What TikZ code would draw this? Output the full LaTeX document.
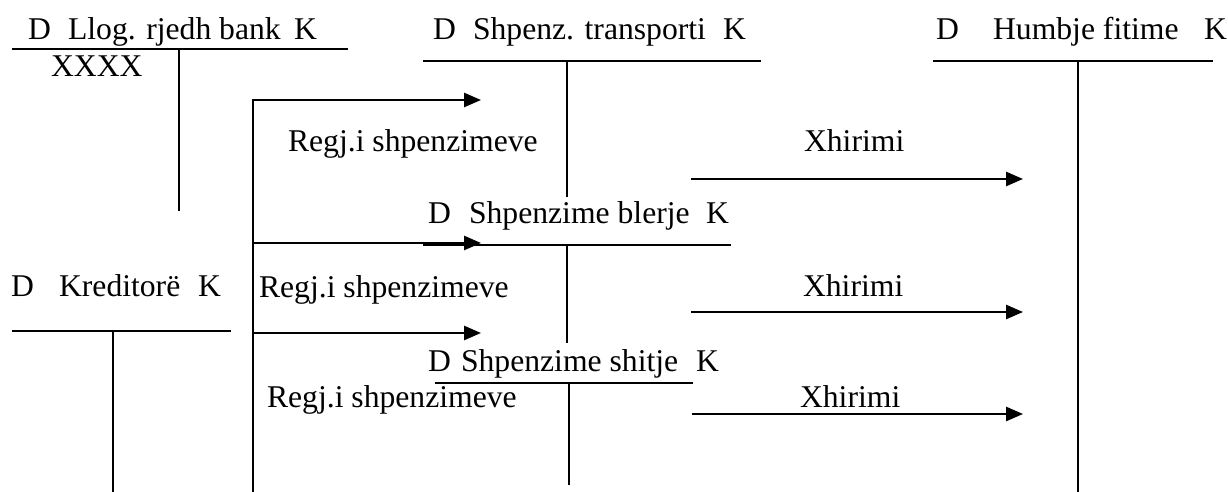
\documentclass[tikz,border=0pt]{standalone}
\usepackage{fontspec}
\setmainfont{Liberation Serif}
\usetikzlibrary{arrows.meta}

\begin{document}
\begin{tikzpicture}[x=0.01cm, y=-0.01cm, line width=0.6pt,
    font=\fontsize{9pt}{11pt}\selectfont,
    txt/.style={anchor=base west, inner sep=0pt},
    flow/.style={-{Triangle[length=4.8pt, width=4pt]}}]
        \useasboundingbox (0,0) rectangle (1228,492);

        % Llog. rjedh bank account
        \node[txt] (bankD) at (27,40) {D};
        \node[txt] (bankN) at (67,40) {Llog. rjedh bank};
        \node[txt] (bankK) at (293,40) {K};
        \node[txt] (bankX) at (50,77) {XXXX};
        \draw (12,49) -- (348,49);
        \draw (179,49) -- (179,211);

        % Shpenz. transporti account
        \node[txt] (trD) at (432,40) {D};
        \node[txt] (trN) at (472,40) {Shpenz. transporti};
        \node[txt] (trK) at (722,40) {K};
        \draw (423,61) -- (761,61);
        \draw (567,61) -- (567,197);

        % Humbje fitime account
        \node[txt] (hfD) at (935,40) {D};
        \node[txt] (hfN) at (992,40) {Humbje fitime};
        \node[txt] (hfK) at (1203,40) {K};
        \draw (933,61) -- (1213,61);
        \draw (1078,61) -- (1078,492);

        % Shpenzime blerje account
        \node[txt] (blD) at (427,224) {D};
        \node[txt] (blN) at (468,224) {Shpenzime blerje};
        \node[txt] (blK) at (705,224) {K};
        \draw (423,245) -- (731,245);
        \draw (567,245) -- (567,343);

        % Kreditore account
        \node[txt] (krD) at (10,297) {D};
        \node[txt] (krN) at (58,297) {Kreditorë};
        \node[txt] (krK) at (197,297) {K};
        \draw (12,331) -- (231,331);
        \draw (113,331) -- (113,492);

        % Shpenzime shitje account
        \node[txt] (shD) at (427,372) {D};
        \node[txt] (shN) at (460,372) {Shpenzime shitje};
        \node[txt] (shK) at (695,372) {K};
        \draw (435,383) -- (693,383);
        \draw (569,383) -- (569,485);

        % Registering the expenses
        \coordinate (kr0) at (253,492);
        \coordinate (kr1) at (253,100);
        \coordinate (kr2) at (253,243);
        \coordinate (kr3) at (253,333);
        \coordinate (toTr) at (481,100);
        \coordinate (toBl) at (481,243);
        \coordinate (toSh) at (481,333);
        \draw[flow] (kr0) -- (kr1) -- (toTr);
        \draw[flow] (kr2) -- (toBl);
        \draw[flow] (kr3) -- (toSh);
        \node[txt] (regTr) at (287,152) {Regj.i shpenzimeve};
        \node[txt] (regBl) at (258,298) {Regj.i shpenzimeve};
        \node[txt] (regSh) at (266,408) {Regj.i shpenzimeve};

        % Transfer to Humbje fitime
        \coordinate (xTr0) at (691,179);
        \coordinate (xTr1) at (1023,179);
        \coordinate (xBl0) at (691,312);
        \coordinate (xBl1) at (1023,312);
        \coordinate (xSh0) at (692,414);
        \coordinate (xSh1) at (1023,414);
        \draw[flow] (xTr0) -- (xTr1);
        \draw[flow] (xBl0) -- (xBl1);
        \draw[flow] (xSh0) -- (xSh1);
        \node[txt] (xhTr) at (803,152) {Xhirimi};
        \node[txt] (xhBl) at (802,297) {Xhirimi};
        \node[txt] (xhSh) at (799,408) {Xhirimi};
    \end{tikzpicture}
\end{document}
